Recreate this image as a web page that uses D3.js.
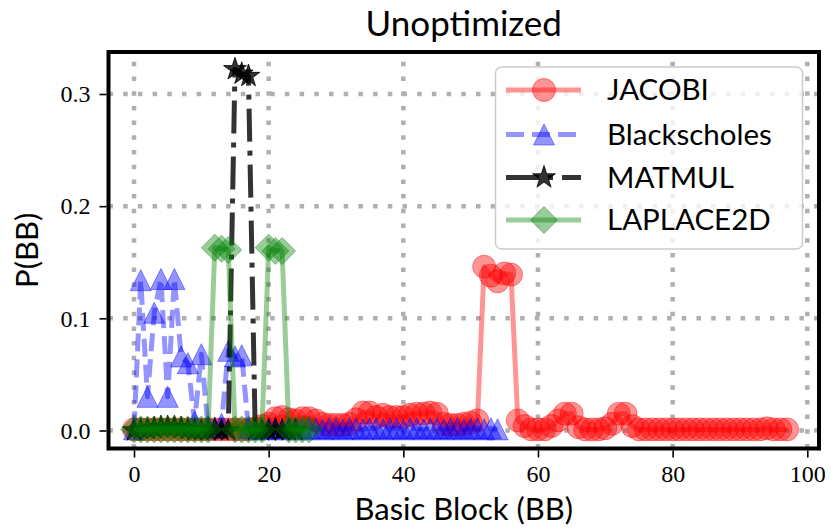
<!DOCTYPE html>
<html><head><meta charset="utf-8">
<script src="https://cdn.jsdelivr.net/npm/d3@7"></script>
<style>body{margin:0;background:#fff}svg{display:block}</style>
</head><body><svg id="c" width="831" height="528"></svg>
<script>
// ---- data (x = basic block index) ----
const seriesNames = ["JACOBI", "Blackscholes", "MATMUL", "LAPLACE2D"];
const jacobi = [
0.001,0.001,0.001,0.001,0.001,0.001,0.001,0.001,0.001,0.001,
0.001,0.001,0.001,0.001,0.001,0.001,0.001,0.001,0.002,0.004,
0.006,0.011,0.012,0.010,0.009,0.011,0.011,0.009,0.006,0.005,
0.005,0.005,0.006,0.010,0.016,0.016,0.012,0.014,0.012,0.012,
0.012,0.014,0.015,0.015,0.016,0.015,0.006,0.005,0.005,0.006,
0.007,0.009,0.146,0.138,0.133,0.140,0.139,0.009,0.004,0.001,
0.001,0.001,0.004,0.009,0.015,0.015,0.003,0.001,0.001,0.001,
0.002,0.006,0.015,0.015,0.004,0.001,0.001,0.001,0.001,0.001,
0.001,0.001,0.001,0.001,0.001,0.001,0.001,0.001,0.001,0.001,
0.001,0.001,0.001,0.001,0.002,0.001,0.001,0.001];
const blackscholes = [
0.001,0.134,0.030,0.105,0.135,0.030,0.135,0.066,0.060,0.008,
0.068,0.004,0.002,0.006,0.071,0.066,0.067,0.002,0.002,0.001,
0.002,0.002,0.001,0.002,0.002,0.001,0.002,0.002,0.001,0.002,
0.002,0.001,0.002,0.002,0.001,0.002,0.002,0.001,0.002,0.002,
0.001,0.002,0.002,0.001,0.002,0.002,0.001,0.002,0.002,0.001,
0.002,0.002,0.001,0.002,0.001];
const matmul = [
0.000,0.001,0.001,0.002,0.003,0.003,0.003,0.002,0.001,0.000,
0.000,0.000,0.001,0.000,0.000,0.322,0.318,0.316,0.000,0.000,
0.000,0.001,0.000,0.000,0.000];
const laplace2d = [
0.001,0.001,0.001,0.001,0.001,0.001,0.001,0.001,0.001,0.001,
0.001,0.001,0.163,0.162,0.161,0.001,0.001,0.001,0.001,0.001,
0.163,0.160,0.160,0.001,0.001,0.001,0.001];
const xTicks = [0, 20, 40, 60, 80, 100];
const yTicks = [0.0, 0.1, 0.2, 0.3];

// ---- layout ----
const svg = d3.select("#c");
const L = 108.5, R = 819, T = 52, B = 448.5;
const x = d3.scaleLinear().domain([0, 100]).range([134, 807.3]);
const y = d3.scaleLinear().domain([0, 0.3]).range([430.5, 94]);

const serif = "'Liberation Serif','DejaVu Serif',serif";
const sans = "Lato,'Open Sans',sans-serif";

// grid
const grid = svg.append("g");
grid.selectAll("line.gx").data(xTicks).join("line")
  .attr("x1", d => x(d)).attr("x2", d => x(d)).attr("y1", B).attr("y2", T)
  .attr("stroke", "#b0b0b0").attr("stroke-width", 4.5).attr("stroke-dasharray", "4.5,10.2");
grid.selectAll("line.gy").data(yTicks).join("line")
  .attr("y1", d => y(d)).attr("y2", d => y(d)).attr("x1", L).attr("x2", R)
  .attr("stroke", "#b0b0b0").attr("stroke-width", 4.5).attr("stroke-dasharray", "4.5,10.2");

// clip
svg.append("clipPath").attr("id", "clip").append("rect")
  .attr("x", L).attr("y", T).attr("width", R - L).attr("height", B - T);

// marker shapes
function starPath(r) {
  const pts = [];
  for (let i = 0; i < 10; i++) {
    const rr = i % 2 === 0 ? r : r * 0.382;
    const a = -Math.PI / 2 + i * Math.PI / 5;
    pts.push([rr * Math.cos(a), rr * Math.sin(a)]);
  }
  return "M" + pts.map(p => p.join(",")).join("L") + "Z";
}
const shapes = {
  circle: "M11.5,0A11.5,11.5 0 1,1 -11.5,0A11.5,11.5 0 1,1 11.5,0Z",
  tri: "M0,-10.5L10.5,10.5L-10.5,10.5Z",
  star: starPath(12),
  diamond: "M0,-13.5L13.5,0L0,13.5L-13.5,0Z"
};

const series = [
  {name: seriesNames[0], values: jacobi, color: "#ff0000", alpha: 0.42, dash: null, shape: "circle"},
  {name: seriesNames[1], values: blackscholes, color: "#0000ff", alpha: 0.42, dash: "18,8", shape: "tri"},
  {name: seriesNames[2], values: matmul, color: "#000000", alpha: 0.8, dash: "33,9,5,9", shape: "star"},
  {name: seriesNames[3], values: laplace2d, color: "#008000", alpha: 0.4, dash: null, shape: "diamond"}
];

const plot = svg.append("g").attr("clip-path", "url(#clip)");
const line = d3.line().x((d, i) => x(i)).y(d => y(d));
series.forEach(s => {
  const g = plot.append("g");
  g.append("path").datum(s.values).attr("d", line)
    .attr("fill", "none").attr("stroke", s.color).attr("stroke-opacity", s.alpha)
    .attr("stroke-width", 5).attr("stroke-linejoin", "round")
    .attr("stroke-dasharray", s.dash);
  g.selectAll("path.m").data(s.values).join("path").attr("class", "m")
    .attr("d", shapes[s.shape])
    .attr("transform", (d, i) => `translate(${x(i)},${y(d)})`)
    .attr("fill", s.color).attr("fill-opacity", s.alpha)
    .attr("stroke", s.color).attr("stroke-opacity", s.alpha).attr("stroke-width", 1);
});

// axes
const xAxis = d3.axisBottom(x).tickValues(xTicks).tickSize(7).tickPadding(7).tickFormat(d3.format("d"));
const gx = svg.append("g").attr("transform", `translate(0,${B + 2})`).call(xAxis);
gx.select(".domain").remove();
gx.selectAll("line").attr("stroke-width", 1.6);
gx.selectAll("text").attr("font-family", serif).attr("font-size", 24).attr("fill", "#000");

const yAxis = d3.axisLeft(y).tickValues(yTicks).tickSize(7).tickPadding(9).tickFormat(d3.format(".1f"));
const gy = svg.append("g").attr("transform", `translate(${L - 2},0)`).call(yAxis);
gy.select(".domain").remove();
gy.selectAll("line").attr("stroke-width", 1.6);
gy.selectAll("text").attr("font-family", serif).attr("font-size", 24).attr("fill", "#000");

// frame
svg.append("rect").attr("x", L).attr("y", T).attr("width", R - L).attr("height", B - T)
  .attr("fill", "none").attr("stroke", "#000").attr("stroke-width", 4);

// legend
const lg = svg.append("g");
lg.append("rect").attr("x", 495.5).attr("y", 67).attr("width", 307).attr("height", 182)
  .attr("rx", 6).attr("fill", "#fff").attr("fill-opacity", 0.8)
  .attr("stroke", "#cccccc").attr("stroke-width", 1.5);
const rowY = [90, 134.5, 177.5, 220];
series.forEach((s, i) => {
  const ry = rowY[i];
  lg.append("line").attr("x1", 506).attr("x2", 581).attr("y1", ry).attr("y2", ry)
    .attr("stroke", s.color).attr("stroke-opacity", s.alpha).attr("stroke-width", 5)
    .attr("stroke-dasharray", s.dash);
  lg.append("path").attr("d", shapes[s.shape]).attr("transform", `translate(544,${ry})`)
    .attr("fill", s.color).attr("fill-opacity", s.alpha)
    .attr("stroke", s.color).attr("stroke-opacity", s.alpha).attr("stroke-width", 1);
  lg.append("text").attr("x", 607).attr("y", ry + 10).text(s.name)
    .attr("font-family", sans).attr("font-size", 29.5).attr("fill", "#000")
    .attr("textLength", null);
});

// titles
svg.append("text").attr("x", (L + R) / 2).attr("y", 36).attr("text-anchor", "middle")
  .attr("font-family", sans).attr("font-size", 35).text("Unoptimized");
svg.append("text").attr("x", (L + R) / 2).attr("y", 520).attr("text-anchor", "middle")
  .attr("font-family", sans).attr("font-size", 31).text("Basic Block (BB)");
svg.append("text").attr("transform", `translate(38,${(T + B) / 2}) rotate(-90)`)
  .attr("text-anchor", "middle").attr("font-family", sans).attr("font-size", 31).text("P(BB)");
</script></body></html>
